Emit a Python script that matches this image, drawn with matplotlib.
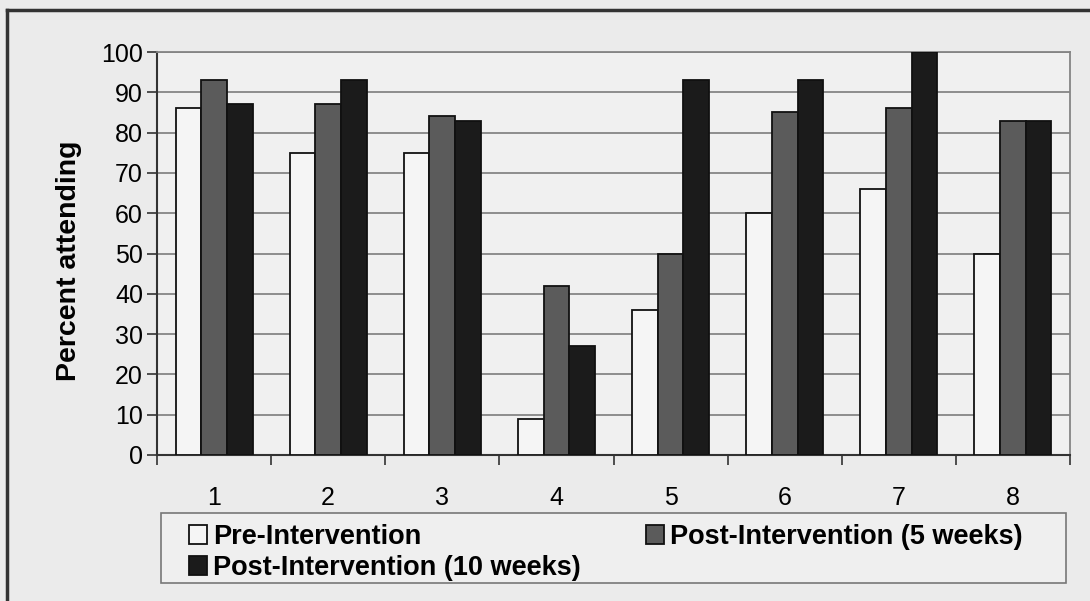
import numpy as np
import matplotlib.pyplot as plt
from matplotlib.lines import Line2D
from matplotlib.patches import Rectangle
from matplotlib.ticker import MultipleLocator

plt.rcParams['font.family'] = ['Liberation Sans', 'DejaVu Sans']

categories = ["1", "2", "3", "4", "5", "6", "7", "8"]
pre = [86, 75, 75, 9, 36, 60, 66, 50]
post_5wk = [93, 87, 84, 42, 50, 85, 86, 83]
post_10wk = [87, 93, 83, 27, 93, 93, 100, 83]

labels = ["Pre-Intervention", "Post-Intervention (5 weeks)", "Post-Intervention (10 weeks)"]
colors = ["#f5f5f5", "#5b5b5b", "#1b1b1b"]

W, H = 1090, 601
fig = plt.figure(figsize=(W / 100, H / 100), dpi=100, facecolor="#ebebeb")
ax = fig.add_axes([157 / W, 1 - 455 / H, 913 / W, 403 / H], facecolor="#f0f0f0")

x = np.arange(len(categories))
w = 0.225
bars = []
for i, (vals, col) in enumerate(zip([pre, post_5wk, post_10wk], colors)):
    b = ax.bar(x + (i - 1) * w, vals, width=w, color=col, edgecolor="#111111",
               linewidth=1.3, label=labels[i], zorder=3)
    bars.append(b)

ax.set_xlim(-0.5, len(categories) - 0.5)
ax.set_ylim(0, 100)
ax.yaxis.set_major_locator(MultipleLocator(10))
ax.grid(axis="y", color="#858585", linewidth=1.3, zorder=0)

# category labels in the middle, tick marks at the boundaries
ax.set_xticks(x)
ax.set_xticklabels(categories, fontsize=18)
ax.set_xticks(np.arange(len(categories) + 1) - 0.5, minor=True)
ax.tick_params(axis="x", which="major", length=0, pad=22)
ax.tick_params(axis="x", which="minor", length=7, width=1.2, color="#333333", direction="out")
ax.tick_params(axis="y", labelsize=18, length=7, width=1.2, color="#333333", pad=3)

for side in ["top", "right"]:
    ax.spines[side].set_color("#858585")
    ax.spines[side].set_linewidth(1.3)
for side in ["left", "bottom"]:
    ax.spines[side].set_color("#333333")
    ax.spines[side].set_linewidth(1.5)

fig.text(69 / W, 1 - 261 / H, "Percent attending", rotation=90, ha="center", va="center",
         fontsize=20.5, fontweight="bold")

# legend box, then the entries without their own frame
fig.add_artist(Rectangle((161 / W, 18 / H), 905 / W, 70 / H, transform=fig.transFigure,
                         facecolor="#efefef", edgecolor="#777777", linewidth=1.2))
handles = [bars[0], bars[2], bars[1]]
leg_labels = [labels[0], labels[2], labels[1]]
leg = fig.legend(handles, leg_labels, ncol=2, loc="upper left",
                 bbox_to_anchor=(189 / W, 1 - 524 / H),
                 prop={"size": 19.5, "weight": "bold"}, frameon=False,
                 handlelength=0.67, handleheight=0.67, handletextpad=0.22,
                 labelspacing=0.18, columnspacing=2.4, borderpad=0, borderaxespad=0)

# page frame from the scan
fig.add_artist(Line2D([7 / W, 1], [1 - 10 / H, 1 - 10 / H],
                      transform=fig.transFigure, color="#333333", linewidth=2.5))
fig.add_artist(Line2D([7 / W, 7 / W], [0, 1 - 10 / H],
                      transform=fig.transFigure, color="#333333", linewidth=2.5))

fig.savefig("out.png", dpi=100, facecolor=fig.get_facecolor())
